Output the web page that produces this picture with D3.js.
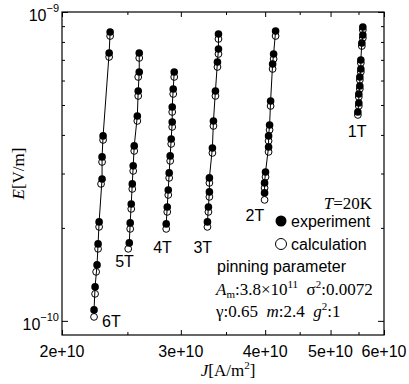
<!DOCTYPE html>
<html>
<head>
<meta charset="utf-8">
<script src="https://cdn.jsdelivr.net/npm/d3@7"></script>
<style>
  body { margin: 0; background: #fff; }
  svg { display: block; }
  .sans { font-family: "Liberation Sans", Arial, Helvetica, sans-serif; }
  .serif { font-family: "Liberation Serif", "Times New Roman", serif; }
</style>
</head>
<body>
<div id="chart"></div>
<script>
// magnetic field of each curve
const fields = ["6T", "5T", "4T", "3T", "2T", "1T"];

// experiment: current density J [A/m^2] and electric field E [V/m]
const expJ = [
  [2.357e10, 2.349e10, 2.301e10, 2.293e10, 2.293e10, 2.270e10, 2.262e10, 2.254e10, 2.239e10, 2.231e10],
  [2.603e10, 2.603e10, 2.594e10, 2.586e10, 2.559e10, 2.550e10, 2.542e10, 2.533e10, 2.524e10, 2.516e10],
  [2.933e10, 2.923e10, 2.913e10, 2.913e10, 2.903e10, 2.893e10, 2.883e10, 2.874e10, 2.864e10, 2.854e10],
  [3.411e10, 3.411e10, 3.399e10, 3.376e10, 3.353e10, 3.341e10, 3.307e10, 3.307e10, 3.296e10, 3.285e10],
  [4.145e10, 4.117e10, 4.103e10, 4.075e10, 4.061e10, 4.047e10, 4.047e10, 4.005e10, 3.992e10, 3.992e10],
  [5.582e10, 5.582e10, 5.563e10, 5.544e10, 5.544e10, 5.525e10, 5.525e10, 5.506e10, 5.506e10, 5.488e10]
];
const expE = [
  [8.614e-10, 7.368e-10, 3.970e-10, 3.395e-10, 2.881e-10, 2.091e-10, 1.775e-10, 1.518e-10, 1.288e-10, 1.085e-10],
  [7.368e-10, 6.396e-10, 5.550e-10, 4.607e-10, 3.685e-10, 3.176e-10, 2.776e-10, 2.391e-10, 2.076e-10, 1.788e-10],
  [6.396e-10, 5.634e-10, 4.926e-10, 4.406e-10, 3.882e-10, 3.420e-10, 3.013e-10, 2.654e-10, 2.338e-10, 2.060e-10],
  [8.486e-10, 7.591e-10, 6.891e-10, 5.550e-10, 4.439e-10, 3.630e-10, 2.903e-10, 2.615e-10, 2.338e-10, 2.091e-10],
  [8.679e-10, 7.313e-10, 6.789e-10, 5.152e-10, 4.308e-10, 3.970e-10, 3.657e-10, 3.035e-10, 2.797e-10, 2.596e-10],
  [8.942e-10, 8.423e-10, 7.935e-10, 6.993e-10, 6.540e-10, 6.161e-10, 5.761e-10, 5.428e-10, 5.077e-10, 4.746e-10]
];

// calculation
const calcJ = [
  [2.357e10, 2.349e10, 2.301e10, 2.293e10, 2.285e10, 2.270e10, 2.262e10, 2.247e10, 2.239e10, 2.231e10],
  [2.603e10, 2.594e10, 2.594e10, 2.586e10, 2.559e10, 2.550e10, 2.542e10, 2.533e10, 2.524e10, 2.507e10],
  [2.933e10, 2.923e10, 2.913e10, 2.913e10, 2.903e10, 2.893e10, 2.883e10, 2.874e10, 2.864e10, 2.854e10],
  [3.411e10, 3.411e10, 3.399e10, 3.376e10, 3.353e10, 3.341e10, 3.307e10, 3.307e10, 3.296e10, 3.285e10],
  [4.145e10, 4.117e10, 4.103e10, 4.075e10, 4.061e10, 4.047e10, 4.047e10, 4.005e10, 3.992e10, 3.992e10],
  [5.582e10, 5.582e10, 5.563e10, 5.544e10, 5.544e10, 5.525e10, 5.525e10, 5.506e10, 5.506e10, 5.488e10]
];
const calcE = [
  [8.361e-10, 7.152e-10, 3.853e-10, 3.269e-10, 2.776e-10, 2.015e-10, 1.711e-10, 1.441e-10, 1.223e-10, 1.030e-10],
  [7.099e-10, 6.161e-10, 5.348e-10, 4.439e-10, 3.549e-10, 3.058e-10, 2.674e-10, 2.304e-10, 1.985e-10, 1.711e-10],
  [6.161e-10, 5.428e-10, 4.746e-10, 4.245e-10, 3.740e-10, 3.295e-10, 2.903e-10, 2.557e-10, 2.253e-10, 1.985e-10],
  [8.178e-10, 7.313e-10, 6.638e-10, 5.348e-10, 4.276e-10, 3.497e-10, 2.797e-10, 2.520e-10, 2.253e-10, 2.015e-10],
  [8.361e-10, 7.046e-10, 6.540e-10, 4.963e-10, 4.152e-10, 3.825e-10, 3.524e-10, 2.925e-10, 2.694e-10, 2.464e-10],
  [8.745e-10, 8.238e-10, 7.760e-10, 6.838e-10, 6.396e-10, 6.026e-10, 5.634e-10, 5.308e-10, 4.963e-10, 4.642e-10]
];

// axis ticks
const xMajor = [2e10, 3e10, 4e10, 5e10, 6e10];
const xMajorLabels = ["2e+10", "3e+10", "4e+10", "5e+10", "6e+10"];
const xMinor = [2.5e10, 3.5e10, 4.5e10, 5.5e10];
const yMajor = [1e-10, 1e-9];
const yMajorExp = ["−10", "−9"];
const yMinor = [2e-10, 3e-10, 4e-10, 5e-10, 6e-10, 7e-10, 8e-10, 9e-10];

const W = 409, H = 384;
const plot = { left: 62, right: 384, top: 12, bottom: 335 };

const svg = d3.select("#chart").append("svg")
  .attr("width", W).attr("height", H);

const x = d3.scaleLog().domain([2e10, 6e10]).range([plot.left, plot.right]);
const y = d3.scaleLog().domain([9e-11, 1e-9]).range([plot.bottom, plot.top]);

// frame
svg.append("rect")
  .attr("x", plot.left).attr("y", plot.top)
  .attr("width", plot.right - plot.left).attr("height", plot.bottom - plot.top)
  .attr("fill", "none").attr("stroke", "#000").attr("stroke-width", 1.2);

// inward ticks on all four sides
function ticks(axisFn, scale, values, size, translate) {
  const g = svg.append("g")
    .attr("transform", translate)
    .call(axisFn(scale).tickValues(values).tickSize(size).tickFormat(""));
  g.select(".domain").remove();
  g.selectAll(".tick line").attr("stroke", "#000").attr("stroke-width", 1);
}
ticks(d3.axisBottom, x, xMajor, -5, `translate(0,${plot.bottom})`);
ticks(d3.axisBottom, x, xMinor, -3, `translate(0,${plot.bottom})`);
ticks(d3.axisTop, x, xMajor, -5, `translate(0,${plot.top})`);
ticks(d3.axisTop, x, xMinor, -3, `translate(0,${plot.top})`);
ticks(d3.axisLeft, y, yMajor, -6, `translate(${plot.left},0)`);
ticks(d3.axisLeft, y, yMinor, -3, `translate(${plot.left},0)`);
ticks(d3.axisRight, y, yMajor, -6, `translate(${plot.right},0)`);
ticks(d3.axisRight, y, yMinor, -3, `translate(${plot.right},0)`);

// x tick labels
svg.selectAll(".xlab")
  .data(xMajor)
  .enter().append("text")
  .attr("class", "sans")
  .attr("x", d => x(d))
  .attr("y", plot.bottom + 22)
  .attr("text-anchor", "middle")
  .style("font-size", "16px")
  .text((d, i) => xMajorLabels[i]);

// y tick labels 10^n
yMajor.forEach((v, i) => {
  const t = svg.append("text")
    .attr("class", "sans")
    .attr("x", plot.left - 3)
    .attr("y", y(v) + 9)
    .attr("text-anchor", "end")
    .style("font-size", "16px");
  t.append("tspan").text("10");
  t.append("tspan").attr("dy", -9).style("font-size", "11px").text(yMajorExp[i]);
});

// axis titles
const xt = svg.append("text")
  .attr("class", "serif")
  .attr("x", 228).attr("y", 376)
  .attr("text-anchor", "middle")
  .style("font-size", "17px");
xt.append("tspan").style("font-style", "italic").text("J");
xt.append("tspan").text("[A/m");
xt.append("tspan").attr("dy", -7).style("font-size", "11px").text("2");
xt.append("tspan").attr("dy", 7).text("]");

svg.append("text")
  .attr("class", "serif")
  .attr("transform", `translate(24,${(plot.top + plot.bottom) / 2}) rotate(-90)`)
  .attr("text-anchor", "middle")
  .style("font-size", "17px")
  .call(t => {
    t.append("tspan").style("font-style", "italic").text("E");
    t.append("tspan").text("[V/m]");
  });

// curves
const line = d3.line().x(d => x(d[0])).y(d => y(d[1]));
const labelOffsets = [[8, 10], [-13, 18], [-13, 24], [-14, 26], [-19, 21], [-10, 22]];

fields.forEach((f, i) => {
  const exp = expJ[i].map((j, k) => [j, expE[i][k]]);
  const calc = calcJ[i].map((j, k) => [j, calcE[i][k]]);

  svg.append("path")
    .datum(exp)
    .attr("fill", "none")
    .attr("stroke", "#000")
    .attr("stroke-width", 1)
    .attr("d", line);

  svg.append("g").selectAll("circle")
    .data(calc)
    .enter().append("circle")
    .attr("cx", d => x(d[0]))
    .attr("cy", d => y(d[1]))
    .attr("r", 3.4)
    .attr("fill", "none")
    .attr("stroke", "#000")
    .attr("stroke-width", 1);

  svg.append("g").selectAll("circle")
    .data(exp)
    .enter().append("circle")
    .attr("cx", d => x(d[0]))
    .attr("cy", d => y(d[1]))
    .attr("r", 3.8)
    .attr("fill", "#000");

  const last = calc[calc.length - 1];
  svg.append("text")
    .attr("class", "sans")
    .attr("x", x(last[0]) + labelOffsets[i][0])
    .attr("y", y(last[1]) + labelOffsets[i][1])
    .style("font-size", "16px")
    .text(f);
});

// legend
const lg = svg.append("g");
lg.append("text")
  .attr("class", "serif")
  .attr("x", 372).attr("y", 209)
  .attr("text-anchor", "end")
  .style("font-size", "17px")
  .call(t => {
    t.append("tspan").style("font-style", "italic").text("T");
    t.append("tspan").text("=20K");
  });
lg.append("circle").attr("cx", 281).attr("cy", 221).attr("r", 5.5).attr("fill", "#000");
lg.append("text").attr("class", "sans").attr("x", 291).attr("y", 227)
  .style("font-size", "16px").text("experiment");
lg.append("circle").attr("cx", 281).attr("cy", 244).attr("r", 5.5)
  .attr("fill", "none").attr("stroke", "#000").attr("stroke-width", 1);
lg.append("text").attr("class", "sans").attr("x", 291).attr("y", 250)
  .style("font-size", "16px").text("calculation");

lg.append("text").attr("class", "sans").attr("x", 217).attr("y", 272)
  .style("font-size", "16px").text("pinning parameter");

lg.append("text").attr("class", "serif").attr("x", 216).attr("y", 295)
  .style("font-size", "17px")
  .attr("xml:space", "preserve")
  .call(t => {
    t.append("tspan").style("font-style", "italic").text("A");
    t.append("tspan").attr("dy", 3).style("font-size", "11px").text("m");
    t.append("tspan").attr("dy", -3).text(":3.8×10");
    t.append("tspan").attr("dy", -7).style("font-size", "11px").text("11");
    t.append("tspan").attr("dy", 7).text("  σ");
    t.append("tspan").attr("dy", -7).style("font-size", "11px").text("2");
    t.append("tspan").attr("dy", 7).text(":0.0072");
  });

lg.append("text").attr("class", "serif").attr("x", 216).attr("y", 317)
  .style("font-size", "17px")
  .attr("xml:space", "preserve")
  .call(t => {
    t.append("tspan").text("γ:0.65  ");
    t.append("tspan").style("font-style", "italic").text("m");
    t.append("tspan").text(":2.4  ");
    t.append("tspan").style("font-style", "italic").text("g");
    t.append("tspan").attr("dy", -7).style("font-size", "11px").text("2");
    t.append("tspan").attr("dy", 7).text(":1");
  });
</script>
</body>
</html>
